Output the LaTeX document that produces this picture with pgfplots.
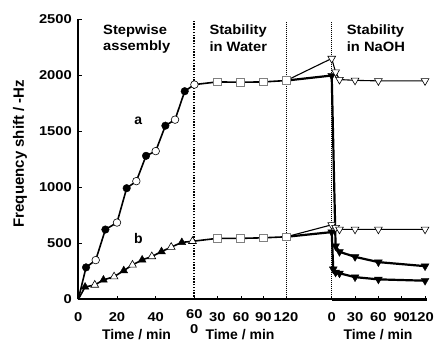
\documentclass[border=0pt]{standalone}
\usepackage{fontspec}
\setmainfont{Liberation Sans}
\newfontfamily\tickfont{Liberation Sans Bold}[FakeStretch=1.15]
\newfontfamily\titlefont{Liberation Sans Bold}[FakeStretch=1.09]
\newfontfamily\boldfont{Liberation Sans Bold}
\usepackage{pgfplots}
\usepackage{pgfplotstable}
\pgfplotsset{compat=1.18}

% r = region (1 stepwise, 2 water, 3 NaOH), t = time in that region (min), f = -Hz, c = marker class
\pgfplotstableread{
r t f c
1 0 0 f
1 4 285 f
1 9 350 o
1 14 623 f
1 20 685 o
1 25 992 f
1 30 1055 o
1 35 1281 f
1 40 1323 o
1 45 1550 f
1 50 1604 o
1 55 1858 f
1 60 1917 o
2 30 1941 s
2 60 1938 s
2 90 1941 s
2 120 1953 s
}\aMain
\pgfplotstableread{
r t f
2 120 1953
3 0 2150
3 5 2028
3 10 1962
3 30 1955
3 60 1950
3 120 1950
}\aOpenN
\pgfplotstableread{
r t f
2 120 1953
3 0 1998
3 5 475
3 10 424
3 30 379
3 60 332
3 120 296
}\aFillN
\pgfplotstableread{
r t f c
1 0 0 f
1 3.5 110 f
1 8.5 128 o
1 13 173 f
1 18.5 202 o
1 23.5 256 f
1 28 307 o
1 33 352 f
1 38 382 o
1 43 426 f
1 48 466 o
1 53.5 508 f
1 59 518 o
2 30 544 s
2 60 544 s
2 90 549 s
2 120 558 s
}\bMain
\pgfplotstableread{
r t f
2 120 558
3 0 665
3 5 640
3 10 625
3 30 625
3 60 625
3 120 625
}\bOpenN
\pgfplotstableread{
r t f
2 120 558
3 0 600
3 2 269
3 5 240
3 10 232
3 30 198
3 60 178
3 120 166
}\bFillN

\def\Xexpr{(\thisrow{r}==1)*1.935*\thisrow{t}+(\thisrow{r}==2)*(115.9+0.767*\thisrow{t})+(\thisrow{r}==3)*(253.4+0.778*\thisrow{t})}

\begin{document}
\begin{tikzpicture}
\useasboundingbox (-78.3pt,-42.7pt) rectangle (356.7pt,299.3pt);
\begin{axis}[
  at={(0,0)}, anchor=south west,
  scale only axis, width=349pt, height=280pt,
  xmin=0, xmax=349, ymin=0, ymax=2500,
  axis x line=bottom, axis y line=left,
  axis line style={-, line width=1.8pt},
  tick align=inside,
  major tick length=3.5pt,
  tick style={black, line width=1pt},
  ytick={0,500,...,2500},
  xtick={0,38.7,77.4,139,162.7,185,207.7,253.4,276.7,300,323.4,346.7},
  xticklabels={0,20,40,30,60,90,120,0,30,60,90,{\kern-7pt 120}},
  extra x ticks={116},
  extra x tick labels={\begin{tabular}{@{}c@{}}60\\0\end{tabular}},
  extra x tick style={tick label style={yshift=5pt, font=\tickfont\fontsize{12.8}{15}\selectfont}},
  /pgf/number format/assume math mode=true,
  /pgf/number format/1000 sep={},
  tick label style={font=\tickfont\fontsize{12.8}{15}\selectfont},
  xticklabel style={yshift=-10pt},
  yticklabel style={xshift=-3pt},
  clip=false,
]
% region separators
\addplot[black, line width=2pt, dash pattern=on 1.4pt off 1.4pt] coordinates {(116,0) (116,2490)};
\addplot[black, line width=1pt, dash pattern=on 1pt off 1pt] coordinates {(207.7,0) (207.7,2475)};
\addplot[black, line width=1pt, dash pattern=on 1pt off 1pt] coordinates {(253.4,0) (253.4,2475)};
\addplot[black, line width=2.8pt] coordinates {(253.4,0) (349,0)};

% lines
\addplot[black, line width=1.6pt] table[x expr=\Xexpr, y=f] {\aMain};
\addplot[black, line width=1.6pt] table[x expr=\Xexpr, y=f] {\bMain};
\addplot[black, line width=1.1pt] table[x expr=\Xexpr, y=f] {\aOpenN};
\addplot[black, line width=1.1pt] table[x expr=\Xexpr, y=f] {\bOpenN};
\addplot[black, line width=2.2pt] table[x expr=\Xexpr, y=f] {\aFillN};
\addplot[black, line width=2.2pt] table[x expr=\Xexpr, y=f] {\bFillN};

% marks
\addplot[only marks, scatter, scatter src=explicit symbolic,
  scatter/classes={
    f={mark=*, draw=black, fill=black, mark size=3.8pt},
    o={mark=*, draw=black, fill=white, mark size=3.8pt, line width=0.6pt},
    s={mark=square*, draw=gray, fill=white, mark size=3.8pt, line width=0.8pt}},
  skip coords between index={0}{1}]
  table[x expr=\Xexpr, y=f, meta=c] {\aMain};
\addplot[only marks, scatter, scatter src=explicit symbolic,
  scatter/classes={
    f={mark=triangle*, draw=black, fill=black, mark size=4.5pt},
    o={mark=triangle*, draw=black, fill=white, mark size=4.5pt, line width=0.6pt},
    s={mark=square*, draw=gray, fill=white, mark size=3.8pt, line width=0.8pt}},
  skip coords between index={0}{1}]
  table[x expr=\Xexpr, y=f, meta=c] {\bMain};
\addplot[only marks, mark=triangle*, mark size=4.5pt,
  mark options={rotate=180, draw=black, fill=black},
  skip coords between index={0}{1}] table[x expr=\Xexpr, y=f] {\aFillN};
\addplot[only marks, mark=triangle*, mark size=4.5pt,
  mark options={rotate=180, draw=black, fill=black},
  skip coords between index={0}{1}] table[x expr=\Xexpr, y=f] {\bFillN};
\addplot[only marks, mark=triangle*, mark size=4.5pt,
  mark options={rotate=180, draw=black, fill=white, line width=0.6pt},
  skip coords between index={0}{1}] table[x expr=\Xexpr, y=f] {\aOpenN};
\addplot[only marks, mark=triangle*, mark size=4.5pt,
  mark options={rotate=180, draw=black, fill=white, line width=0.6pt},
  skip coords between index={0}{1}] table[x expr=\Xexpr, y=f] {\bOpenN};

% texts
\tikzset{ttl/.style={anchor=base west, inner sep=0pt, font=\titlefont\fontsize{13.5}{16}\selectfont}}
\node[ttl] at (axis cs:24.7,2365) {Stepwise};
\node[ttl] at (axis cs:24.7,2218) {assembly};
\node[ttl] at (axis cs:131,2368) {Stability};
\node[ttl] at (axis cs:131,2209) {in Water};
\node[ttl] at (axis cs:268.4,2368) {Stability};
\node[ttl] at (axis cs:268.4,2209) {in NaOH};
\node[anchor=base, inner sep=0pt, font=\boldfont\fontsize{14}{16}\selectfont] at (axis cs:60,1562) {a};
\node[anchor=base, inner sep=0pt, font=\boldfont\fontsize{14}{16}\selectfont] at (axis cs:60,502) {b};
\tikzset{tml/.style={anchor=base, inner sep=0pt, font=\boldfont\fontsize{14}{16}\selectfont}}
\node[tml] at (axis cs:58.2,-355) {Time / min};
\node[tml] at (axis cs:161.7,-355) {Time / min};
\node[tml] at (axis cs:299.7,-355) {Time / min};
\node[anchor=base, inner sep=0pt, rotate=90, font=\boldfont\fontsize{15}{17}\selectfont] at ([xshift=-54.3pt]axis cs:0,1300) {Frequency shift / -Hz};
\end{axis}
\end{tikzpicture}
\end{document}
